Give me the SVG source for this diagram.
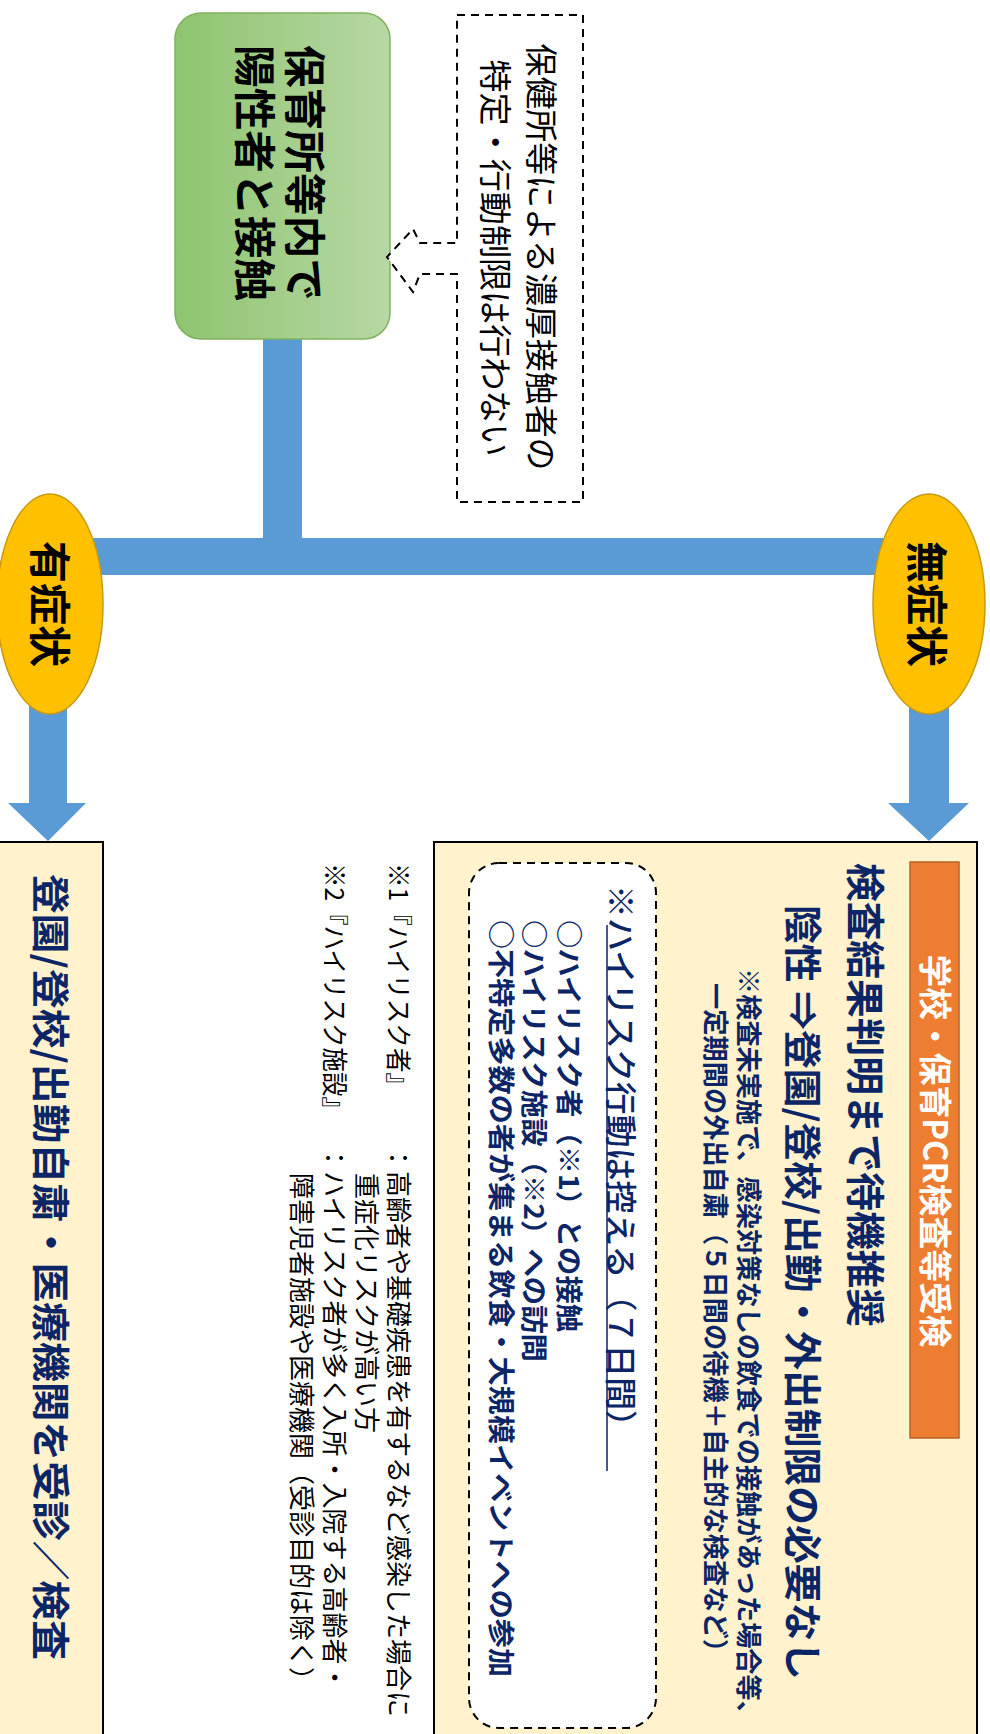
<svg xmlns="http://www.w3.org/2000/svg" width="990" height="1734" viewBox="0 0 990 1734">
<defs>
<linearGradient id="gGreen" x1="0" y1="0" x2="1" y2="0">
<stop offset="0" stop-color="#8ec46f"/>
<stop offset="1" stop-color="#b7d8a5"/>
</linearGradient>
<style>
.t{font-family:"Noto Sans CJK JP","Noto Sans CJK SC",sans-serif;dominant-baseline:central}
.b{font-weight:700}
.navy{fill:#0b2566}
.blk{fill:#000}
.wht{fill:#fff}
.blue{fill:#5b9bd5}
.dash{stroke:#000;stroke-width:2;stroke-dasharray:8 6}
.pale{fill:#fff2cc;stroke:#000;stroke-width:2}
.oval{fill:#ffc000;stroke:#c59a12;stroke-width:1.5}
</style>
</defs>
<rect width="990" height="1734" fill="#fff"/>

<g id="connectors">
<rect class="blue" x="263" y="338" width="39" height="218"/>
<rect class="blue" x="90" y="538" width="795" height="37"/>
<polygon class="blue" points="29,705 67,705 67,803 86,803 48,841 8,803 29,803"/>
<polygon class="blue" points="909,705 949,705 949,803 969,803 929,841 888,803 909,803"/>
</g>

<g id="node-contact">
<rect x="175" y="13" width="215" height="326" rx="26" fill="url(#gGreen)" stroke="#7fb35f" stroke-width="1.5"/>
<text class="t b blk" font-size="42" x="307" y="173" text-anchor="middle" textLength="256" lengthAdjust="spacingAndGlyphs" transform="rotate(90 307 173)">保育所等内で</text>
<text class="t b blk" font-size="42" x="257" y="173" text-anchor="middle" textLength="256" lengthAdjust="spacingAndGlyphs" transform="rotate(90 257 173)">陽性者と接触</text>
</g>

<g id="node-note">
<path class="dash" fill="#fff" d="M457,15 L583,15 L583,502 L457,502 L457,274 L420,274 L413,292 L387,257 L413,229 L420,243 L457,243 Z"/>
<text class="t blk" font-size="33" x="543" y="257" text-anchor="middle" textLength="427" lengthAdjust="spacingAndGlyphs" transform="rotate(90 543 257)">保健所等による濃厚接触者の</text>
<text class="t blk" font-size="33" x="497" y="258" text-anchor="middle" textLength="397" lengthAdjust="spacingAndGlyphs" transform="rotate(90 497 258)">特定・行動制限は行わない</text>
</g>

<g id="node-symptomatic">
<ellipse class="oval" cx="50" cy="604" rx="53" ry="110"/>
<text class="t b blk" font-size="42" x="52" y="604" text-anchor="middle" transform="rotate(90 52 604)">有症状</text>
</g>

<g id="node-asymptomatic">
<ellipse class="oval" cx="929" cy="604" rx="56" ry="110"/>
<text class="t b blk" font-size="42" x="929" y="604" text-anchor="middle" transform="rotate(90 929 604)">無症状</text>
</g>

<g id="node-left-result">
<rect class="pale" x="-2" y="842" width="105" height="900"/>
<text class="t b navy" font-size="38" x="53" y="874" textLength="786" lengthAdjust="spacingAndGlyphs" transform="rotate(90 53 874)">登園/登校/出勤自粛・医療機関を受診／検査</text>
</g>

<g id="node-right-result">
<rect class="pale" x="434" y="842" width="543" height="900"/>
<rect x="910" y="862" width="49" height="576" fill="#ed7d31" stroke="#b8622a" stroke-width="1.5"/>
<text class="t b wht" font-size="33" x="937" y="1151" text-anchor="middle" textLength="393" lengthAdjust="spacingAndGlyphs" transform="rotate(90 937 1151)">学校・保育PCR検査等受検</text>
<text class="t b navy" font-size="39" x="868" y="863" textLength="464" lengthAdjust="spacingAndGlyphs" transform="rotate(90 868 863)">検査結果判明まで待機推奨</text>
<text class="t b navy" font-size="38" x="805" y="905" textLength="775" lengthAdjust="spacingAndGlyphs" transform="rotate(90 805 905)">陰性 ⇒登園/登校/出勤・外出制限の必要なし</text>
<text class="t b navy" font-size="26" x="750" y="968" textLength="759" lengthAdjust="spacingAndGlyphs" transform="rotate(90 750 968)">※検査未実施で、感染対策なしの飲食での接触があった場合等、</text>
<text class="t b navy" font-size="26" x="717" y="983" textLength="682" lengthAdjust="spacingAndGlyphs" transform="rotate(90 717 983)">一定期間の外出自粛（５日間の待機＋自主的な検査など）</text>

<rect class="dash" fill="#fff" x="469" y="863" width="187" height="865" rx="30"/>
<text class="t navy" font-size="32" font-weight="500" x="623" y="885" textLength="558" lengthAdjust="spacingAndGlyphs" transform="rotate(90 623 885)">※ハイリスク行動は控える（７日間）</text>
<line x1="607" y1="925" x2="607" y2="1471" stroke="#0b2566" stroke-width="1.5"/>
<text class="t b navy" font-size="27" x="570" y="920" textLength="412" lengthAdjust="spacingAndGlyphs" transform="rotate(90 570 920)">○ハイリスク者（※1）との接触</text>
<text class="t b navy" font-size="27" x="535" y="920" textLength="442" lengthAdjust="spacingAndGlyphs" transform="rotate(90 535 920)">○ハイリスク施設（※2）への訪問</text>
<text class="t b navy" font-size="27" x="502" y="920" textLength="757" lengthAdjust="spacingAndGlyphs" transform="rotate(90 502 920)">○不特定多数の者が集まる飲食・大規模イベントへの参加</text>
</g>

<g id="footnotes">
<text class="t blk" font-size="26" x="400" y="863" textLength="234" lengthAdjust="spacingAndGlyphs" transform="rotate(90 400 863)">※1『ハイリスク者』</text>
<text class="t blk" font-size="26" x="400" y="1145" transform="rotate(90 400 1145)">：高齢者や基礎疾患を有するなど感染した場合に</text>
<text class="t blk" font-size="26" x="368" y="1173" transform="rotate(90 368 1173)">重症化リスクが高い方</text>
<text class="t blk" font-size="26" x="336" y="863" textLength="258" lengthAdjust="spacingAndGlyphs" transform="rotate(90 336 863)">※2『ハイリスク施設』</text>
<text class="t blk" font-size="26" x="336" y="1145" transform="rotate(90 336 1145)">：ハイリスク者が多く入所・入院する高齢者・</text>
<text class="t blk" font-size="26" x="303" y="1173" transform="rotate(90 303 1173)">障害児者施設や医療機関（受診目的は除く）</text>
</g>
</svg>
